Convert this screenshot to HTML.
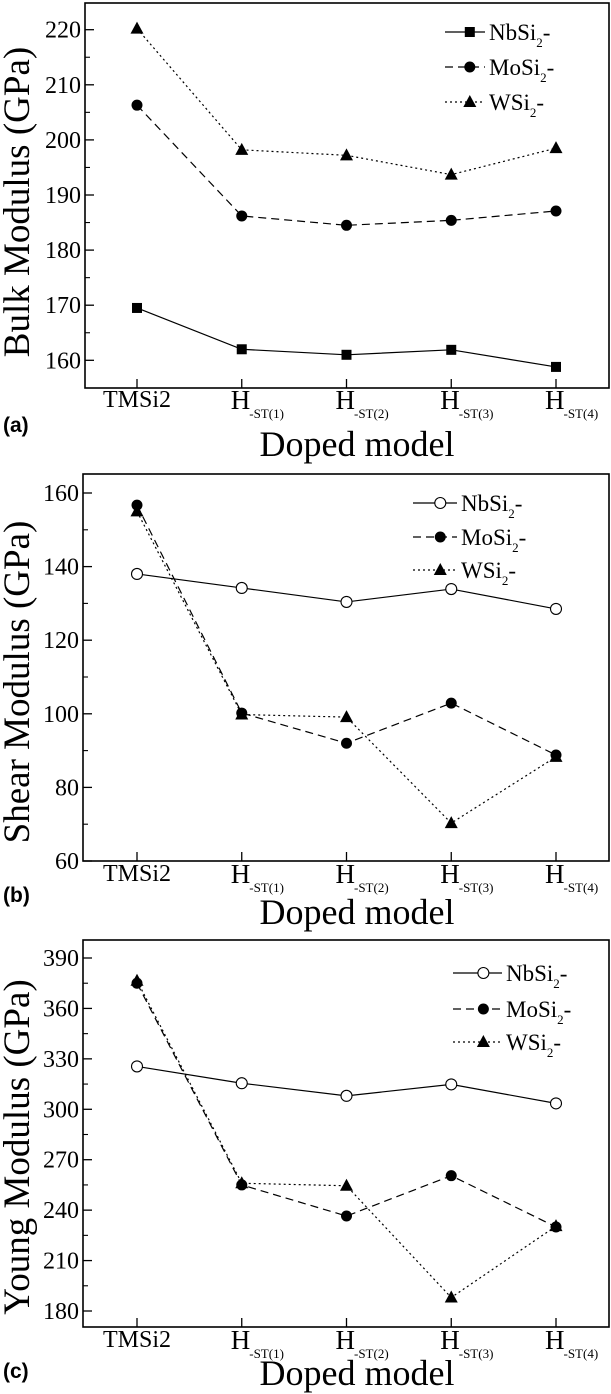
<!DOCTYPE html>
<html><head><meta charset="utf-8"><style>
html,body{margin:0;padding:0;background:#fff;}
svg{display:block;}
text{font-family:"Liberation Serif",serif;fill:#000;}
.lab{font-family:"Liberation Sans",sans-serif;font-weight:bold;}
</style></head><body>
<svg id="fig" width="611" height="1394" viewBox="0 0 611 1394" xmlns="http://www.w3.org/2000/svg"></svg>
<script>
const categories = ["TMSi2","H|-ST(1)","H|-ST(2)","H|-ST(3)","H|-ST(4)"];
const seriesNames = ["NbSi","MoSi","WSi"];
const bulkNb = [169.5, 162.0, 161.0, 161.9, 158.8];
const bulkMo = [206.3, 186.2, 184.5, 185.4, 187.1];
const bulkW  = [220.2, 198.2, 197.2, 193.7, 198.5];
const shearNb = [138.0, 134.2, 130.4, 133.9, 128.5];
const shearMo = [156.7, 100.2, 92.0, 102.9, 88.8];
const shearW  = [155.0, 99.8, 99.1, 70.3, 88.3];
const youngNb = [325.5, 315.5, 308.0, 314.8, 303.5];
const youngMo = [375.0, 255.0, 236.5, 260.5, 230.0];
const youngW  = [376.5, 256.0, 254.5, 188.0, 230.5];
const bulkTicks = [160,170,180,190,200,210,220];
const shearTicks = [60,80,100,120,140,160];
const youngTicks = [180,210,240,270,300,330,360,390];

const NS="http://www.w3.org/2000/svg";
const svg=document.getElementById('fig');
function mk(tag,attrs,parent){const e=document.createElementNS(NS,tag);for(const k in attrs)e.setAttribute(k,attrs[k]);(parent||svg).appendChild(e);return e;}

function panel(cfg){
  const g=mk('g',{});
  
  
  const L=cfg.left,R=cfg.right,T=cfg.top,B=cfg.bottom;
  const yv=v=>cfg.y0px+(v-cfg.y0)*(cfg.y1px-cfg.y0px)/(cfg.y1-cfg.y0);
  const xv=i=>137+i*104.75;
  const box=mk('rect',{x:L,y:T,width:R-L,height:B-T,fill:'none',stroke:'#000','stroke-width':1.6},g);
  
  
  const step=cfg.ticks[1]-cfg.ticks[0];
  cfg.ticks.forEach((t,i)=>{
    const y=yv(t);
    mk('line',{x1:L,x2:L+9,y1:y,y2:y,stroke:'#000','stroke-width':1.3},g);
    const m=yv(t+step/2);
    if(m>T+2) mk('line',{x1:L,x2:L+5,y1:m,y2:m,stroke:'#000','stroke-width':1.1},g);
    const tl=mk('text',{x:L-4,y:y+8,'text-anchor':'end','font-size':24},g);
    tl.textContent=t;
    
    
  });
  const mb=yv(cfg.ticks[0]-step/2); if(mb<B-2) mk('line',{x1:L,x2:L+5,y1:mb,y2:mb,stroke:'#000','stroke-width':1.1},g);
  categories.forEach((c,i)=>{
    const x=xv(i);
    mk('line',{x1:x,x2:x,y1:B,y2:B-9,stroke:'#000','stroke-width':1.3},g);
    const parts=c.split('|');
    const t=mk('text',{x:x,y:B+cfg.lblDy,'text-anchor':'middle','font-size':24},g);
    
    
    if(parts.length>1){
      t.setAttribute('x',x-11);
      t.setAttribute('text-anchor','start');
      t.setAttribute('y',B+cfg.lblDy+2);
      const a=mk('tspan',{'font-size':27},t);a.textContent=parts[0];
      const b=mk('tspan',{dy:9,dx:-1,'font-size':13},t);b.textContent=parts[1];
    } else t.textContent=c;
  });
  const yt=mk('text',{transform:`translate(${cfg.ytx},${cfg.ytc}) rotate(-90)`,'text-anchor':'middle','font-size':37},g);
  yt.textContent=cfg.ytitle;
  
  
  const xt=mk('text',{x:357,y:cfg.xtY,'text-anchor':'middle','font-size':36},g);
  xt.textContent='Doped model';
  
  
  const pl=mk('text',{x:3,y:cfg.plY,'font-size':21,class:'lab'},g);
  pl.textContent=cfg.tag;
  
  
  const dashes=['none','8,5','2,3'];
  const markers=[cfg.nbMarker,'circle','tri'];
  cfg.series.forEach((vals,s)=>{
    const pts=vals.map((v,i)=>xv(i)+','+yv(v)).join(' ');
    const ln=mk('polyline',{points:pts,fill:'none',stroke:'#000','stroke-width':1.2,'stroke-dasharray':dashes[s]},g);
    
    
    vals.forEach((v,i)=>{
      const m=drawMarker(g,markers[s],xv(i),yv(v));
      
      
    });
    const ly=cfg.legY[s];
    const lg=mk('g',{},g);
    
    
    mk('line',{x1:cfg.legX,x2:cfg.legX+cfg.legW,y1:ly,y2:ly,stroke:'#000','stroke-width':1.2,'stroke-dasharray':dashes[s]},lg);
    drawMarker(lg,markers[s],cfg.legX+cfg.legW*0.62,ly);
    const lt=mk('text',{x:cfg.legX+cfg.legW+4,y:ly+8,'font-size':23},lg);
    const a=mk('tspan',{},lt);a.textContent=seriesNames[s];
    const b=mk('tspan',{dy:7,'font-size':13},lt);b.textContent='2';
    const c=mk('tspan',{dy:-7},lt);c.textContent='-';
  });
}
function drawMarker(g,type,x,y){
  if(type==='square') return mk('rect',{x:x-5,y:y-5,width:10,height:10,fill:'#000'},g);
  if(type==='open') return mk('circle',{cx:x,cy:y,r:5.5,fill:'#fff',stroke:'#000','stroke-width':1.1},g);
  if(type==='circle') return mk('circle',{cx:x,cy:y,r:5.5,fill:'#000'},g);
  return mk('polygon',{points:`${x},${y-7} ${x+6.5},${y+5} ${x-6.5},${y+5}`,fill:'#000'},g);
}
panel({id:'bulk',tag:'(a)',left:85,right:609,top:3,bottom:388,y0:160,y0px:360.3,y1:220,y1px:29.7,ticks:bulkTicks,
  series:[bulkNb,bulkMo,bulkW],nbMarker:'square',ytitle:'Bulk Modulus (GPa)',ytx:29,ytc:202,xtY:456,plY:432,lblDy:19,
  legX:445,legW:40,legY:[32,67,102]});
panel({id:'shear',tag:'(b)',left:83,right:609,top:474,bottom:861,y0:60,y0px:861,y1:160,y1px:493,ticks:shearTicks,
  series:[shearNb,shearMo,shearW],nbMarker:'open',ytitle:'Shear Modulus (GPa)',ytx:29,ytc:682,xtY:924,plY:902,lblDy:20,
  legX:413,legW:44,legY:[503,537,570]});
panel({id:'young',tag:'(c)',left:83,right:609,top:940,bottom:1327,y0:180,y0px:1311,y1:390,y1px:958,ticks:youngTicks,
  series:[youngNb,youngMo,youngW],nbMarker:'open',ytitle:'Young Modulus (GPa)',ytx:29,ytc:1147,xtY:1385,plY:1378,lblDy:20,
  legX:453,legW:49,legY:[973,1009,1042]});
</script>
</body></html>
